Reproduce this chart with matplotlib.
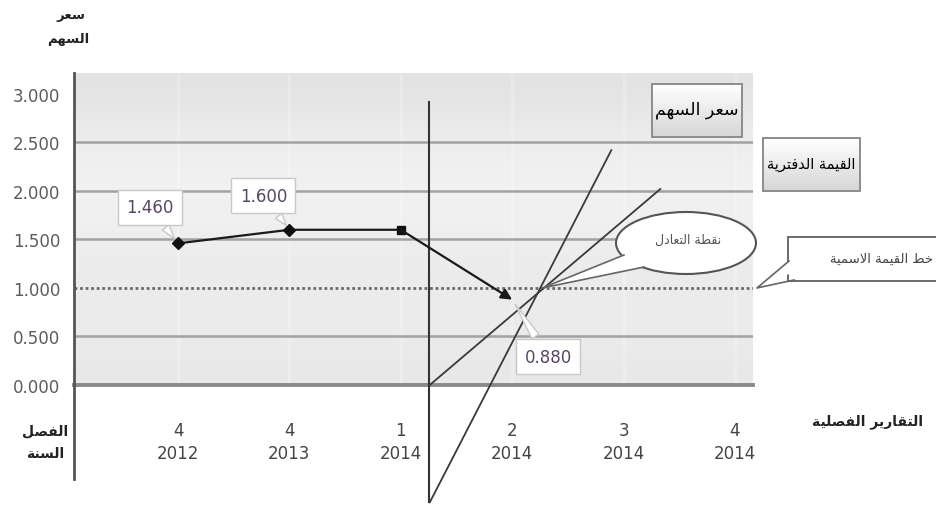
import numpy as np
import matplotlib
matplotlib.use('Agg')
import matplotlib.pyplot as plt
from matplotlib.patches import Rectangle, Ellipse, Polygon

plt.rcParams['font.family'] = ['DejaVu Sans']

# data
quarters = ['4\n2012', '4\n2013', '1\n2014', '2\n2014', '3\n2014', '4\n2014']
price = [1.46, 1.60, 1.60, 0.88]
price_labels = ['1.460', '1.600', None, '0.880']
y_ticks = [0.0, 0.5, 1.0, 1.5, 2.0, 2.5, 3.0]
grid_solid = [0.5, 1.5, 2.0, 2.5]
nominal = 1.0
divider_x = 2.25
divider_y = [-1.21, 2.92]
book_x = [2.26, 4.33]
book_y = [0.0, 2.02]
trend_x = [2.26, 3.89]
trend_y = [-1.21, 2.42]
break_even = (3.27, 1.0)


# matplotlib has no arabic shaping, so do it by hand with presentation forms
FORMS = {  # isolated, final, initial, medial
    'ا': ('\uFE8D', '\uFE8E', None, None),
    'ة': ('\uFE93', '\uFE94', None, None),
    'ت': ('\uFE95', '\uFE96', '\uFE97', '\uFE98'),
    'خ': ('\uFEA5', '\uFEA6', '\uFEA7', '\uFEA8'),
    'د': ('\uFEA9', '\uFEAA', None, None),
    'ر': ('\uFEAD', '\uFEAE', None, None),
    'س': ('\uFEB1', '\uFEB2', '\uFEB3', '\uFEB4'),
    'ص': ('\uFEB9', '\uFEBA', '\uFEBB', '\uFEBC'),
    'ط': ('\uFEC1', '\uFEC2', '\uFEC3', '\uFEC4'),
    'ع': ('\uFEC9', '\uFECA', '\uFECB', '\uFECC'),
    'ف': ('\uFED1', '\uFED2', '\uFED3', '\uFED4'),
    'ق': ('\uFED5', '\uFED6', '\uFED7', '\uFED8'),
    'ل': ('\uFEDD', '\uFEDE', '\uFEDF', '\uFEE0'),
    'م': ('\uFEE1', '\uFEE2', '\uFEE3', '\uFEE4'),
    'ن': ('\uFEE5', '\uFEE6', '\uFEE7', '\uFEE8'),
    'ه': ('\uFEE9', '\uFEEA', '\uFEEB', '\uFEEC'),
    'ي': ('\uFEF1', '\uFEF2', '\uFEF3', '\uFEF4'),
}


def joins_next(c):
    return c in FORMS and FORMS[c][2] is not None


def ar(text):
    out = []
    i, n = 0, len(text)
    while i < n:
        c = text[i]
        if c not in FORMS:
            out.append(c)
            i += 1
            continue
        after = i > 0 and joins_next(text[i - 1])
        if c == 'ل' and i + 1 < n and text[i + 1] == 'ا':
            out.append('\uFEFC' if after else '\uFEFB')
            i += 2
            continue
        before = joins_next(c) and i + 1 < n and text[i + 1] in FORMS
        iso, fin, ini, med = FORMS[c]
        if after and before:
            out.append(med)
        elif after:
            out.append(fin)
        elif before:
            out.append(ini)
        else:
            out.append(iso)
        i += 1
    return ''.join(reversed(out))


W, H = 937, 506
fig = plt.figure(figsize=(W / 100, H / 100), dpi=100)
ax = fig.add_axes([74 / W, 1 - 386 / H, (753 - 74) / W, (386 - 74) / H])
x0, x1 = -0.934, 5.162
y0, y1 = 0.0, 3.216
ax.set_xlim(x0, x1)
ax.set_ylim(y0, y1)

# grey gradient plot background
g = np.array([0.89, 0.93, 0.95, 0.94, 0.92, 0.93, 0.91])
grad = np.repeat(g[:, None], 2, axis=1)
ax.imshow(np.dstack([grad] * 3), extent=[x0, x1, y0, y1], aspect='auto',
          interpolation='bicubic', zorder=0, origin='upper')
ax.vlines(range(len(quarters)), y0, y1, color='white', lw=2.5, alpha=0.22, zorder=1)

for s in ax.spines.values():
    s.set_visible(False)

for v in grid_solid:
    ax.axhline(v, color='#a2a2a2', lw=1.8, zorder=1)
ax.axhline(0, color='#8a8a8a', lw=2.8, zorder=2, clip_on=False)
ax.axhline(nominal, color='#6a6a6a', lw=2, ls=(0, (1, 1)), zorder=2)

# left axis line runs down past the category labels
ax.plot([x0, x0], [-0.97, y1], color='#555555', lw=2, clip_on=False, zorder=3)

ax.set_yticks(y_ticks)
ax.set_yticklabels(['%.3f' % v for v in y_ticks], fontsize=12, color='#5c5c5c')
ax.set_xticks(range(len(quarters)))
ax.set_xticklabels(quarters, fontsize=12, color='#444444', linespacing=1.35)
ax.tick_params(axis='y', length=0, pad=10)
ax.tick_params(axis='x', length=0, pad=26)

# helper lines
ax.plot([divider_x, divider_x], divider_y, color='#333333', lw=1.5, clip_on=False, zorder=3)
ax.plot(trend_x, trend_y, color='#3a3a3a', lw=1.3, clip_on=False, zorder=3)
ax.plot(book_x, book_y, color='#3a3a3a', lw=1.3, clip_on=False, zorder=3)

# share price series
xs = list(range(len(price)))
ax.plot(xs[:3], price[:3], color='#1a1a1a', lw=1.6, zorder=4)
ax.plot(xs[:2], price[:2], 'D', color='#111111', ms=6, zorder=5)
ax.plot(xs[2], price[2], 's', color='#111111', ms=6, zorder=5)
ax.annotate('', xy=(xs[3], price[3]), xytext=(xs[2], price[2]),
            arrowprops=dict(arrowstyle='-|>', color='#1a1a1a', lw=1.6,
                            mutation_scale=16, shrinkA=0, shrinkB=0), zorder=5)

offsets = [(-28, 36), (-26, 34), None, (36, -57)]
for i, lab in enumerate(price_labels):
    if lab is None:
        continue
    ax.annotate(lab, xy=(xs[i], price[i]), xytext=offsets[i], textcoords='offset pixels',
                ha='center', va='center', fontsize=12, color='#574766', zorder=6,
                bbox=dict(boxstyle='square,pad=0.5', fc='white', ec='#c8c8c8', lw=1),
                arrowprops=dict(arrowstyle='wedge,tail_width=0.5', fc='white',
                                ec='#c8c8c8', lw=1, shrinkB=4))

# callouts that sit over the chart, in picture pixels
ov = fig.add_axes([0, 0, 1, 1], zorder=5)
ov.axis('off')
ov.patch.set_alpha(0)


def grad_box(x, y, w, h):
    col = np.linspace(1.0, 0.84, 20)
    img = np.dstack([np.repeat(col[:, None], 2, axis=1)] * 3)
    ov.imshow(img, extent=[x, x + w, y + h, y], aspect='auto', zorder=1)
    ov.add_patch(Rectangle((x, y), w, h, fill=False, ec='#8c8c8c', lw=1.4, zorder=2))


grad_box(652, 85, 90, 53)
grad_box(763, 139, 97, 53)
ov.set_xlim(0, W)
ov.set_ylim(H, 0)
ov.text(697, 110, ar('سعر السهم'), ha='center', va='center', fontsize=12.5, color='black', zorder=3)
ov.text(811, 164, ar('القيمة الدفترية'), ha='center', va='center', fontsize=10.5, color='black', zorder=3)

# break-even bubble
bx, by = ax.transData.transform(break_even)
tip = (bx, H - by)
ov.add_patch(Ellipse((686, 244), 140, 62, fc='white', ec='#555555', lw=1.5, zorder=2))
ov.add_patch(Polygon([(624, 256), (644, 268), tip], closed=True, fc='white', ec='none', zorder=3))
ov.plot([624, tip[0], 644], [256, tip[1], 268], color='#666666', lw=1.2, zorder=4)
ov.text(688, 240, ar('نقطة التعادل'), ha='center', va='center', fontsize=9, color='#555555', zorder=4)

# nominal value callout
nx, ny = ax.transData.transform((x1, nominal))
ntip = (nx + 4, H - ny)
ov.add_patch(Rectangle((788, 238), 160, 44, fc='white', ec='#6a6a6a', lw=1.4, zorder=2,
                       clip_on=False))
ov.add_patch(Polygon([(789, 262), (789, 275), ntip], closed=True, fc='white', ec='none', zorder=3))
ov.plot([789, ntip[0], 794], [262, ntip[1], 281], color='#666666', lw=1.2, zorder=4)
ov.text(933, 259, ar('خط القيمة الاسمية'), ha='right', va='center', fontsize=9.5, color='#444444', zorder=4)

# axis titles
ov.text(71, 15, ar('سعر'), ha='center', va='center', fontsize=9.5, fontweight='bold', color='#222222')
ov.text(68, 39, ar('السهم'), ha='center', va='center', fontsize=9.5, fontweight='bold', color='#222222')
ov.text(45, 431, ar('الفصل'), ha='center', va='center', fontsize=10, fontweight='bold', color='#222222')
ov.text(45, 454, ar('السنة'), ha='center', va='center', fontsize=10, fontweight='bold', color='#222222')
ov.text(868, 422, ar('التقارير الفصلية'), ha='center', va='center', fontsize=10, fontweight='bold', color='#222222')

fig.savefig('out.png', dpi=100)
